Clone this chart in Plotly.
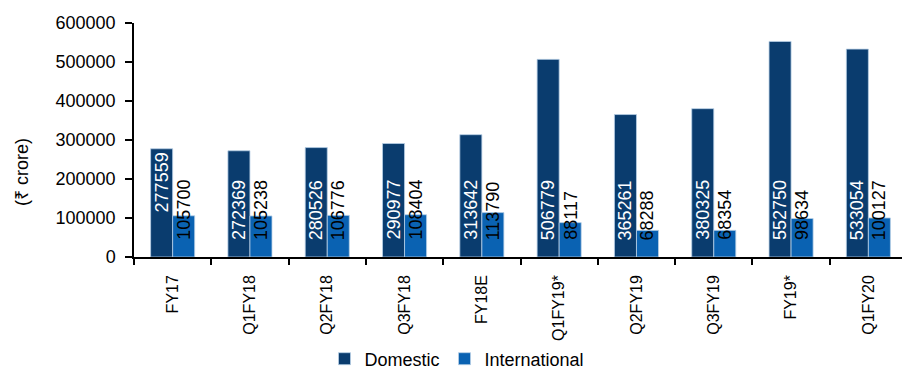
import plotly.graph_objects as go

categories = ["FY17", "Q1FY18", "Q2FY18", "Q3FY18", "FY18E", "Q1FY19*", "Q2FY19", "Q3FY19", "FY19*", "Q1FY20"]
domestic = [277559, 272369, 280526, 290977, 313642, 506779, 365261, 380325, 552750, 533054]
international = [105700, 105238, 106776, 108404, 113790, 88117, 68288, 68354, 98634, 100127]
y_ticks = [0, 100000, 200000, 300000, 400000, 500000, 600000]

FONT = "Liberation Sans, Arial"
FS = 18
C_DOM = "#0a3c6e"
C_INT = "#0a62b2"

fig = go.Figure()
fig.add_trace(go.Bar(name="Domestic", x=categories, y=domestic,
                     marker=dict(color=C_DOM, line=dict(color="#b8cfe6", width=0.8))))
fig.add_trace(go.Bar(name="International", x=categories, y=international,
                     marker=dict(color=C_INT, line=dict(color="#b8cfe6", width=0.8))))

annotations = []
for i, cat in enumerate(categories):
    if i == 0:
        annotations.append(dict(x=cat, y=domestic[i], xref="x", yref="y", text=str(domestic[i]), textangle=-90,
                                showarrow=False, xshift=-11, xanchor="center", yanchor="top", yshift=-2,
                                font=dict(family=FONT, size=FS, color="#ffffff")))
    else:
        annotations.append(dict(x=cat, y=0, xref="x", yref="y", text=str(domestic[i]), textangle=-90,
                                showarrow=False, xshift=-11, xanchor="center", yanchor="bottom", yshift=15,
                                font=dict(family=FONT, size=FS, color="#ffffff")))
    annotations.append(dict(x=cat, y=0, xref="x", yref="y", text=str(international[i]), textangle=-90,
                            showarrow=False, xshift=11, xanchor="center", yanchor="bottom", yshift=15,
                            font=dict(family=FONT, size=FS, color="#000000")))

annotations.append(dict(x=(22 - 134) / 768, y=(257 - 172) / 234, xref="paper", yref="paper",
                        text="(₹ crore)", textangle=-90, showarrow=False, xanchor="center", yanchor="middle",
                        font=dict(family=FONT, size=FS, color="#000000")))

fig.update_layout(
    width=902, height=371,
    margin=dict(l=134, r=0, t=23, b=114),
    paper_bgcolor="white", plot_bgcolor="white",
    barmode="group", bargap=0.43, bargroupgap=0,
    font=dict(family=FONT, size=FS, color="#000000"),
    showlegend=True,
    legend=dict(orientation="h", xref="container", yref="container", x=457 / 902, xanchor="center",
                y=1 - 359 / 371, yanchor="middle", bgcolor="#ffffff",
                font=dict(family=FONT, size=FS, color="#000000"), traceorder="normal"),
    xaxis=dict(type="category", range=[-0.5, 9.435], showline=True, linecolor="#000000", linewidth=1.5,
               ticks="outside", tickson="boundaries", ticklen=6, tickcolor="#000000", tickwidth=1.5,
               tickangle=-90, showgrid=False, ticklabelstandoff=10, automargin=False,
               tickfont=dict(family=FONT, size=16, color="#000000")),
    yaxis=dict(range=[0, 600000], tickvals=y_ticks, ticktext=[str(v) for v in y_ticks],
               showline=True, linecolor="#000000", linewidth=1.5, ticks="outside", ticklen=7,
               tickcolor="#000000", tickwidth=1.5, showgrid=False, zeroline=False, ticklabelstandoff=6,
               automargin=False, tickfont=dict(family=FONT, size=FS, color="#000000")),
    annotations=annotations,
)

fig.write_html("out.html")
